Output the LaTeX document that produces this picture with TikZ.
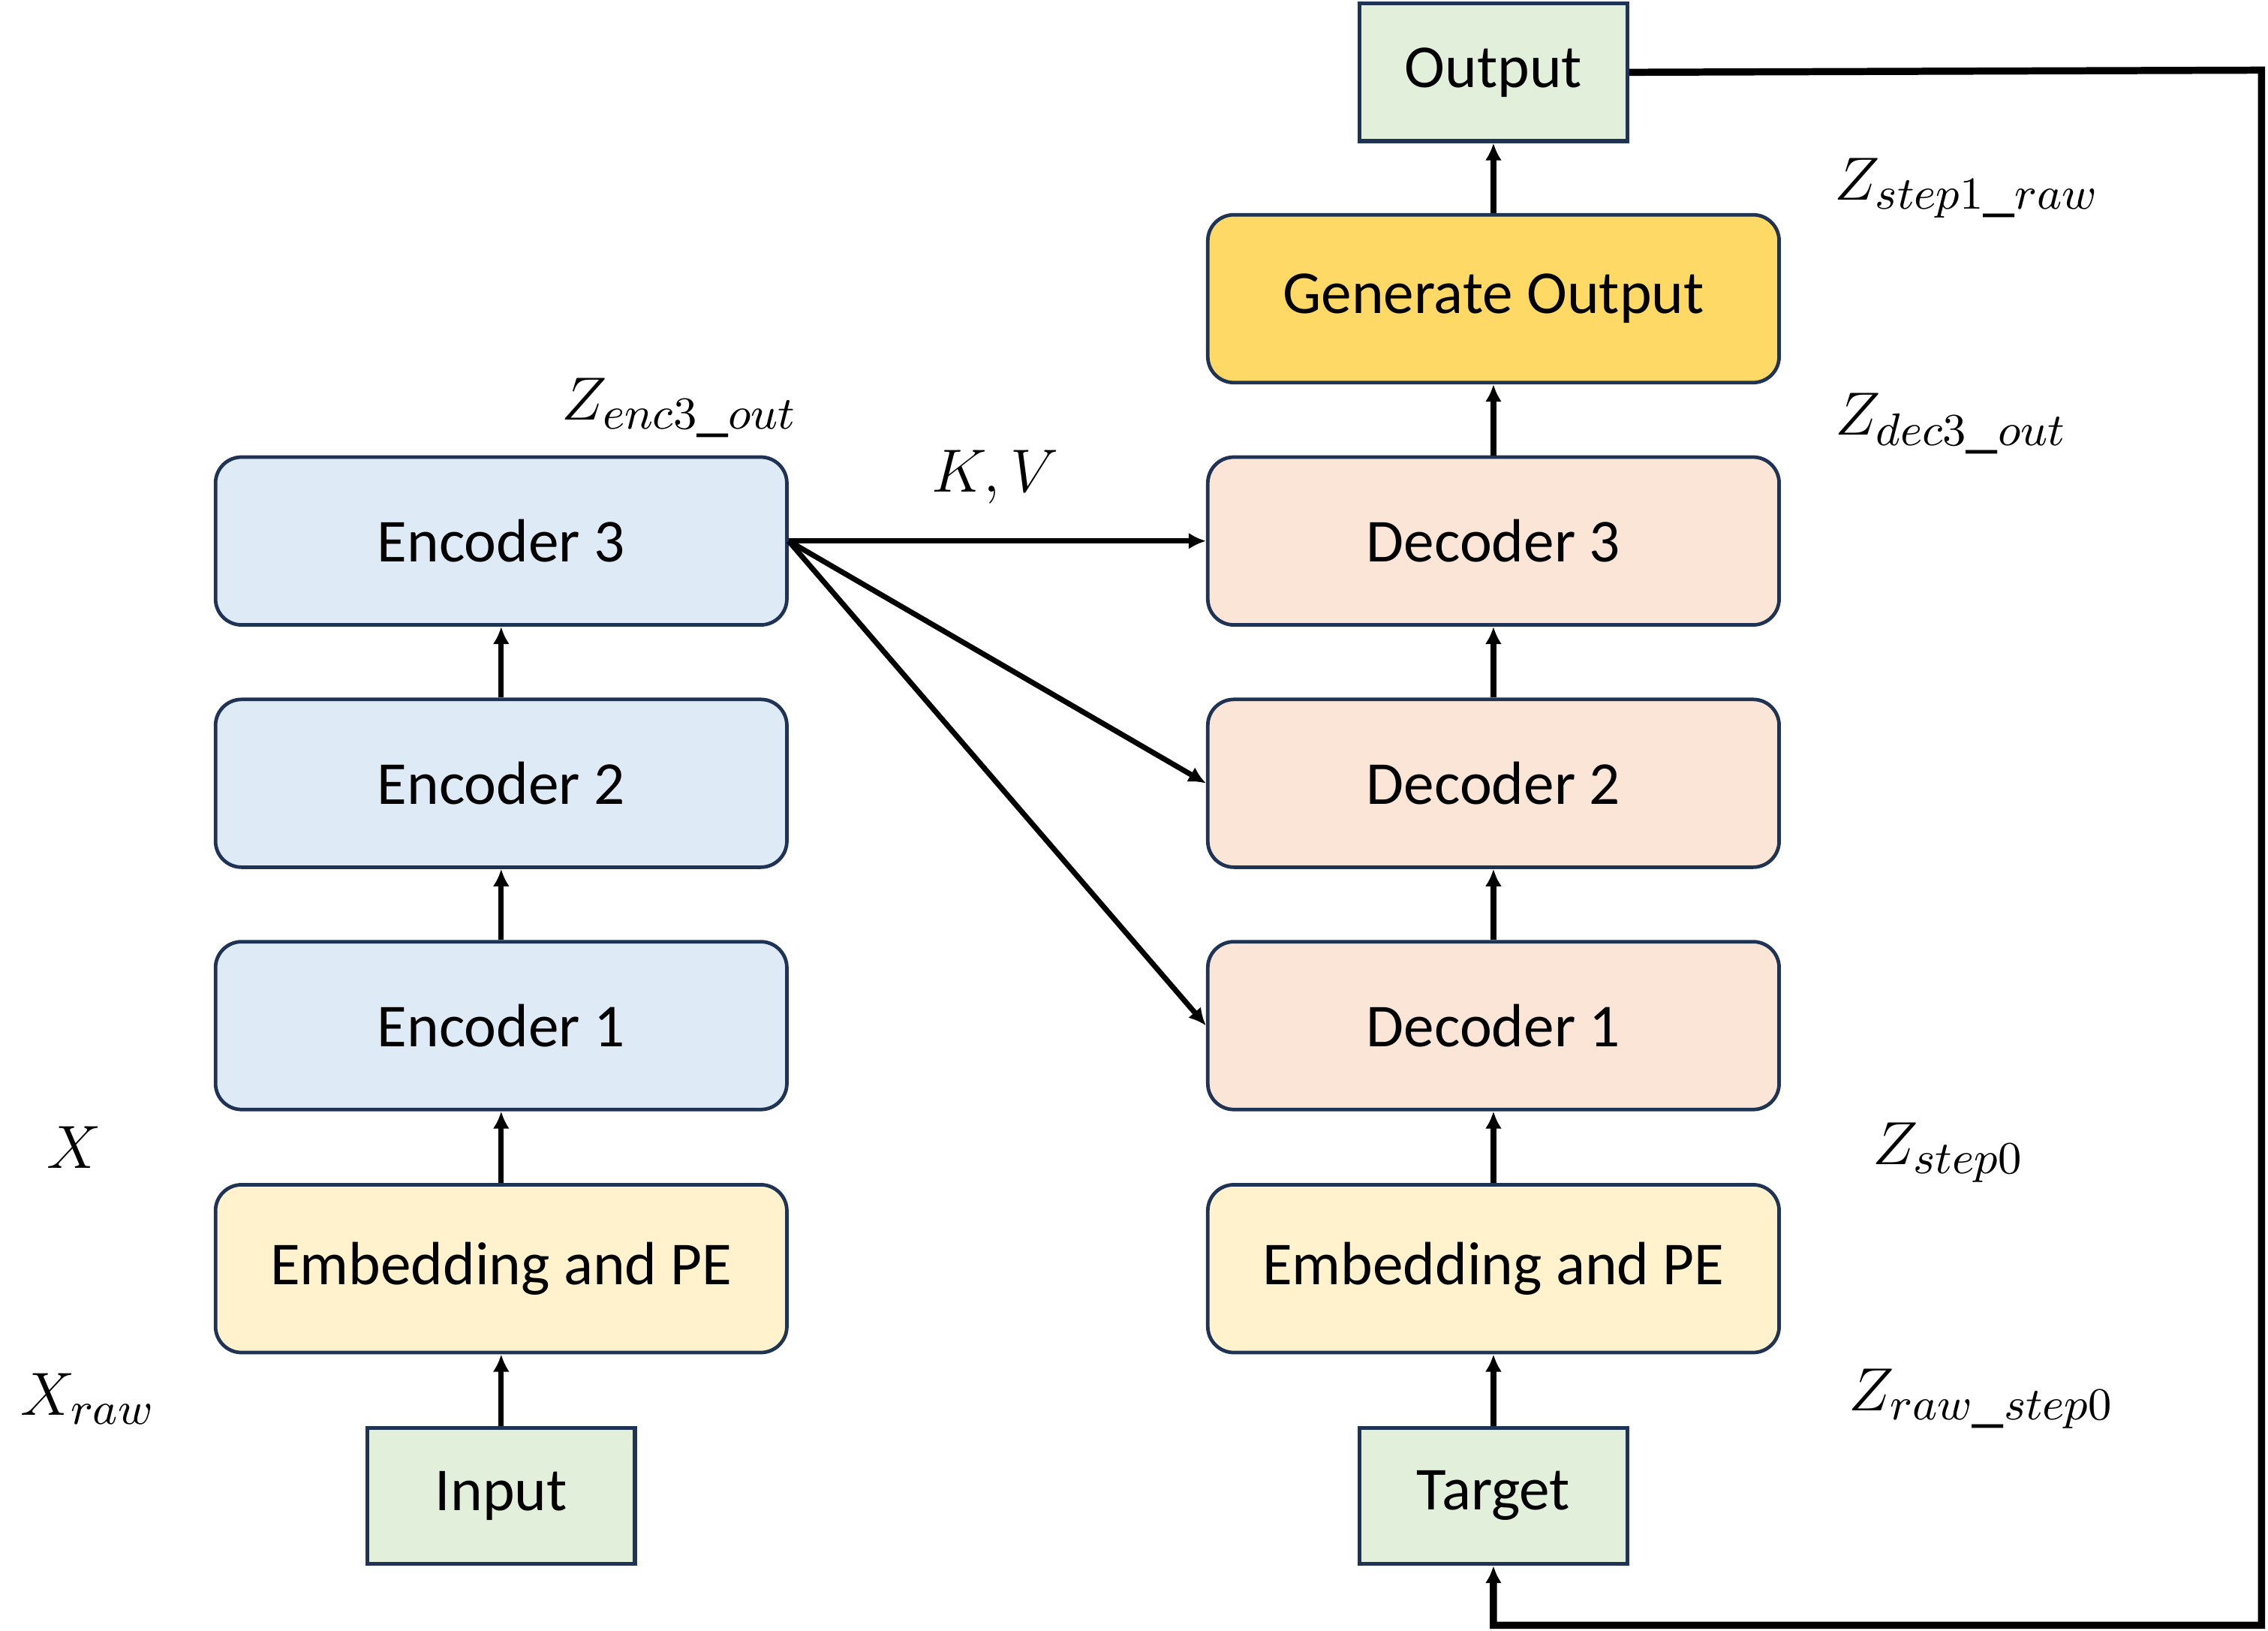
\documentclass[tikz,border=0pt]{standalone}
\usepackage{fontspec}
\setmainfont{Carlito}
\usetikzlibrary{arrows.meta}
\definecolor{edge}{HTML}{1F3354}
\definecolor{encfill}{HTML}{DEEAF6}
\definecolor{decfill}{HTML}{FBE5D6}
\definecolor{embfill}{HTML}{FFF2CC}
\definecolor{iofill}{HTML}{E2EFDA}
\definecolor{genfill}{HTML}{FFD966}
\begin{document}
\begin{tikzpicture}[
	blk/.style={draw=edge,line width=0.7pt,rounded corners=1.8mm,minimum width=3.95cm,minimum height=1.16cm,font=\fontsize{12}{14}\selectfont},
	io/.style={draw=edge,line width=0.8pt,fill=iofill,minimum width=1.85cm,minimum height=0.94cm,font=\fontsize{12}{14}\selectfont},
	com/.style={line width=1.05pt,-{Latex[length=1.2mm,width=1.15mm]}},
	lbl/.style={font=\fontsize{12.5}{14}\selectfont}]
		\useasboundingbox (0,0) rectangle (15.68,-11.27);
		% encoder side
		\node[io] (inp) at (3.465,-10.34) {Input};
		\node[blk,fill=embfill] (emb) [above of=inp,node distance=1.57cm] {Embedding and PE};
		\node[blk,fill=encfill] (e1) [above of=emb,node distance=1.68cm] {Encoder 1};
		\node[blk,fill=encfill] (e2) [above of=e1,node distance=1.675cm] {Encoder 2};
		\node[blk,fill=encfill] (e3) [above of=e2,node distance=1.675cm] {Encoder 3};
		% decoder side
		\node[io] (tgt) at (10.325,-10.34) {Target};
		\node[blk,fill=embfill] (demb) [above of=tgt,node distance=1.57cm] {Embedding and PE};
		\node[blk,fill=decfill] (d1) [above of=demb,node distance=1.68cm] {Decoder 1};
		\node[blk,fill=decfill] (d2) [above of=d1,node distance=1.675cm] {Decoder 2};
		\node[blk,fill=decfill] (d3) [above of=d2,node distance=1.675cm] {Decoder 3};
		\node[blk,fill=genfill] (gen) [above of=d3,node distance=1.675cm] {Generate Output};
		\node[io,minimum height=0.95cm] (out) [above of=gen,node distance=1.565cm] {Output};

		% variable names
		\node[lbl] (x) at (0.51,-7.93) {$X$};
		\node[lbl] (xraw) at (0.61,-9.67) {$X_{raw}$};
		\node[lbl] (zenc) at (4.70,-2.82) {$Z_{enc3\_out}$};
		\node[lbl] (kv) at (6.88,-3.30) {$K, V$};
		\node[lbl] (zs1) at (13.60,-1.30) {$Z_{step1\_raw}$};
		\node[lbl] (zdec) at (13.49,-2.93) {$Z_{dec3\_out}$};
		\node[lbl] (zs0) at (13.47,-7.97) {$Z_{step0}$};
		\node[lbl] (zraw) at (13.70,-9.67) {$Z_{raw\_step0}$};

		\coordinate (fbtop) at (15.635,-0.485);
		\coordinate (fbbot) at (15.635,-11.235);

		\draw[com] (inp) -- (emb);
		\draw[com] (emb) -- (e1);
		\draw[com] (e1) -- (e2);
		\draw[com] (e2) -- (e3);
		\draw[com] (tgt) -- (demb);
		\draw[com] (demb) -- (d1);
		\draw[com] (d1) -- (d2);
		\draw[com] (d2) -- (d3);
		\draw[com] (d3) -- (gen);
		\draw[com] (gen) -- (out);
		\draw[com] (e3.east) -- (d3.west);
		\draw[com] (e3.east) -- (d2.west);
		\draw[com] (e3.east) -- (d1.west);
		\draw[com,line width=1.4pt] (out.east) -- (fbtop) -- (fbbot) -| (tgt.south);
	\end{tikzpicture}
\end{document}
